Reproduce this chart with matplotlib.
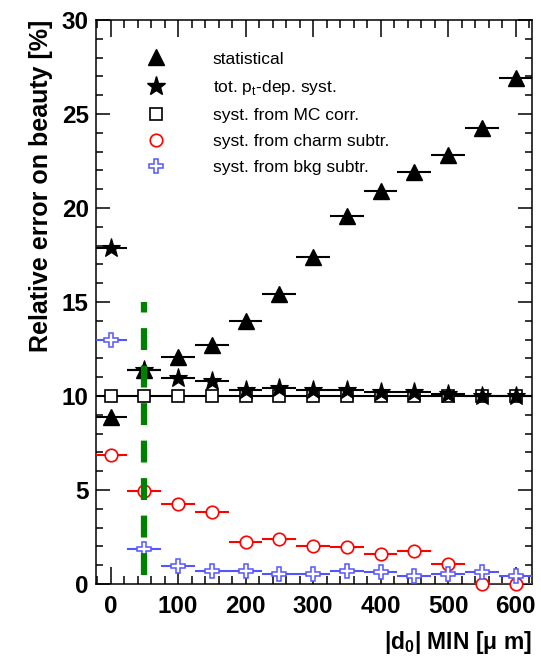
import matplotlib
matplotlib.use("Agg")
import matplotlib.pyplot as plt
from matplotlib.lines import Line2D
from matplotlib.ticker import MultipleLocator

plt.rcParams['font.family'] = ['Liberation Sans', 'DejaVu Sans']
plt.rcParams['mathtext.fontset'] = 'custom'
plt.rcParams['mathtext.rm'] = 'Liberation Sans'
plt.rcParams['mathtext.bf'] = 'Liberation Sans:bold'

# |d0| MIN cut values (um), bin half width 25 um
d0_min = [0, 50, 100, 150, 200, 250, 300, 350, 400, 450, 500, 550, 600]
half_width = 25

statistical = [8.9, 11.4, 12.1, 12.7, 14.0, 15.4, 17.4, 19.6, 20.9, 21.9, 22.8, 24.25, 26.9]
tot_pt_syst = [17.85, 11.4, 10.95, 10.8, 10.3, 10.4, 10.3, 10.3, 10.2, 10.2, 10.1, 10.0, 10.0]
mc_corr = [10.0] * 13
charm_subtr = [6.86, 4.95, 4.25, 3.85, 2.25, 2.38, 2.04, 1.95, 1.61, 1.75, 1.05, 0.0, 0.0]
bkg_subtr = [12.98, 1.86, 0.96, 0.69, 0.69, 0.51, 0.51, 0.69, 0.62, 0.44, 0.51, 0.65, 0.44]

labels = ["statistical", "tot. p$_{\\mathregular{t}}$-dep. syst.", "syst. from MC corr.",
          "syst. from charm subtr.", "syst. from bkg subtr."]

blue = '#5555ff'

fig = plt.figure(figsize=(5.41, 6.59), dpi=100)
ax = fig.add_axes([0.177, 0.1138, 0.806, 0.8559])

xerr = [half_width] * len(d0_min)
ax.errorbar(d0_min, mc_corr, xerr=xerr, fmt='s', color='black', ms=8, mfc='white',
            mec='black', mew=1.2, elinewidth=1.5, capsize=0, zorder=3)
ax.errorbar(d0_min, tot_pt_syst, xerr=xerr, fmt='*', color='black', ms=14, mew=0.8,
            elinewidth=1.5, capsize=0, zorder=4)
ax.errorbar(d0_min, statistical, xerr=xerr, fmt='^', color='black', ms=12,
            elinewidth=1.5, capsize=0, zorder=5)
charm = ax.errorbar(d0_min, charm_subtr, xerr=xerr, fmt='o', color='red', ms=9, mfc='white',
                    mec='red', mew=1.2, elinewidth=1.5, capsize=0, zorder=3)
# zero-valued points sit on the x axis, keep the whole circle visible
charm[0].set_clip_on(False)
ax.errorbar(d0_min, bkg_subtr, xerr=xerr, fmt='P', color=blue, ms=9.5, mfc='white',
            mec=blue, mew=1.1, elinewidth=1.5, capsize=0, zorder=3)

# chosen cut
ax.plot([50, 50], [0.5, 15], color='green', lw=4.5, dashes=(3.5, 2.5), zorder=6)

ax.set_xlim(-22, 624)
ax.set_ylim(0, 30)
ax.xaxis.set_major_locator(MultipleLocator(100))
ax.xaxis.set_minor_locator(MultipleLocator(20))
ax.yaxis.set_major_locator(MultipleLocator(5))
ax.yaxis.set_minor_locator(MultipleLocator(1))
ax.tick_params(which='both', direction='in', top=True, right=True, width=1.1)
ax.tick_params(axis='x', which='major', length=12, labelsize=17.5, pad=8)
ax.tick_params(axis='x', which='minor', length=5.5)
ax.tick_params(axis='y', which='major', length=10, labelsize=17.5, pad=5)
ax.tick_params(axis='y', which='minor', length=5)
for lab in ax.get_xticklabels() + ax.get_yticklabels():
    lab.set_fontweight('bold')
for sp in ax.spines.values():
    sp.set_linewidth(1.1)

ax.set_ylabel('Relative error on beauty [%]', fontsize=18, fontweight='bold',
              loc='top', labelpad=6)
ax.set_xlabel('|d$_{\\mathregular{0}}$| MIN [μ m]', fontsize=16.5, fontweight='bold',
              loc='right', labelpad=8)

handles = [
    Line2D([], [], ls='none', marker='^', color='black', ms=12),
    Line2D([], [], ls='none', marker='*', color='black', ms=14),
    Line2D([], [], ls='none', marker='s', mfc='white', mec='black', ms=8, mew=1.2),
    Line2D([], [], ls='none', marker='o', mfc='white', mec='red', ms=9, mew=1.2),
    Line2D([], [], ls='none', marker='P', mfc='white', mec=blue, ms=9.5, mew=1.1),
]
ax.legend(handles, labels, loc='upper left', bbox_to_anchor=(0.073, 0.972), frameon=False,
          fontsize=12.5, handletextpad=2.5, labelspacing=0.64, handlelength=1.5)

fig.savefig('out.png', dpi=100)
